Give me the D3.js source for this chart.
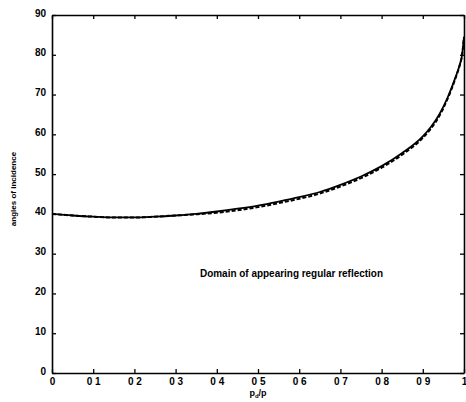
<!DOCTYPE html>
<html><head><meta charset="utf-8">
<script src="https://cdn.jsdelivr.net/npm/d3@7"></script>
<style>body{margin:0;background:#fff}svg{display:block}</style>
</head><body>
<script>
const xs =      [0, 0.05, 0.1, 0.15, 0.2, 0.25, 0.3, 0.35, 0.4, 0.45, 0.5, 0.55, 0.6, 0.65, 0.7, 0.75, 0.8, 0.85, 0.9, 0.92, 0.94, 0.96, 0.98, 0.99, 0.995, 1.0];
const solid =   [40.0, 39.6, 39.3, 39.1, 39.1, 39.3, 39.6, 40.0, 40.6, 41.3, 42.1, 43.1, 44.2, 45.5, 47.3, 49.4, 52.0, 55.3, 59.5, 61.9, 65.0, 69.2, 74.5, 77.6, 79.7, 84.5];
const dashed =  [40.0, 39.6, 39.3, 39.1, 39.1, 39.3, 39.6, 39.9, 40.3, 40.9, 41.7, 42.7, 43.8, 45.1, 46.9, 49.0, 51.6, 54.9, 59.1, 61.5, 64.6, 68.9, 74.3, 77.5, 79.7, 84.5];
const xTicks = [0, 0.1, 0.2, 0.3, 0.4, 0.5, 0.6, 0.7, 0.8, 0.9, 1];
const xTickLabels = ["0", "0 1", "0 2", "0 3", "0 4", "0 5", "0 6", "0 7", "0 8", "0 9", "1"];
const yTicks = [0, 10, 20, 30, 40, 50, 60, 70, 80, 90];

const W = 466, H = 402;
const m = {left: 52, right: 2, top: 15, bottom: 29};
const svg = d3.select("body").append("svg").attr("width", W).attr("height", H);
const x = d3.scaleLinear().domain([0, 1]).range([m.left, W - m.right]);
const y = d3.scaleLinear().domain([0, 90]).range([H - m.bottom, m.top]);
const font = "'Liberation Sans Narrow', 'Liberation Sans', Arial, sans-serif";

// axes
const gB = svg.append("g").attr("transform", `translate(0,${H - m.bottom})`)
  .call(d3.axisBottom(x).tickValues(xTicks).tickFormat((d, i) => xTickLabels[i]).tickSizeInner(-4).tickSizeOuter(0).tickPadding(5));
const gT = svg.append("g").attr("transform", `translate(0,${m.top})`)
  .call(d3.axisTop(x).tickValues(xTicks).tickFormat("").tickSizeInner(-4).tickSizeOuter(0));
const gL = svg.append("g").attr("transform", `translate(${m.left},0)`)
  .call(d3.axisLeft(y).tickValues(yTicks).tickSizeInner(-4).tickSizeOuter(0).tickPadding(6));
const gR = svg.append("g").attr("transform", `translate(${W - m.right},0)`)
  .call(d3.axisRight(y).tickValues(yTicks).tickFormat("").tickSizeInner(-4).tickSizeOuter(0));
[gB, gT, gL, gR].forEach(g => {
  g.select(".domain").attr("stroke", "#000").attr("stroke-width", 1.6);
  g.selectAll(".tick line").attr("stroke", "#000").attr("stroke-width", 1.3);
  g.selectAll(".tick text").attr("fill", "#000").style("font-family", font)
    .style("font-weight", "bold").style("font-size", "10px");
});
gL.selectAll(".tick text").attr("dy", "0.1em");

// curves
const line = d3.line().x((d, i) => x(xs[i])).y(d => y(d)).curve(d3.curveMonotoneX);
svg.append("path").datum(dashed).attr("d", line).attr("fill", "none")
  .attr("stroke", "#000").attr("stroke-width", 2).attr("stroke-dasharray", "4,2");
svg.append("path").datum(solid).attr("d", line).attr("fill", "none")
  .attr("stroke", "#000").attr("stroke-width", 1.8);

// labels
svg.append("text").attr("transform", `translate(16,189) rotate(-90)`)
  .attr("text-anchor", "middle").style("font-family", font).style("font-size", "8px")
  .style("font-weight", "bold").text("angles of incidence");
const xl = svg.append("text").attr("x", x(0.5)).attr("y", 396).attr("text-anchor", "middle")
  .style("font-family", font).style("font-size", "9px").style("font-weight", "bold");
xl.append("tspan").text("p");
xl.append("tspan").attr("dy", 2).style("font-size", "6px").text("d");
xl.append("tspan").attr("dy", -2).text("/p");
svg.append("text").attr("x", 200).attr("y", 277)
  .style("font-family", font).style("font-size", "10px").style("font-weight", "bold")
  .attr("textLength", 183).attr("lengthAdjust", "spacingAndGlyphs")
  .text("Domain of appearing regular reflection");
</script>
</body></html>
